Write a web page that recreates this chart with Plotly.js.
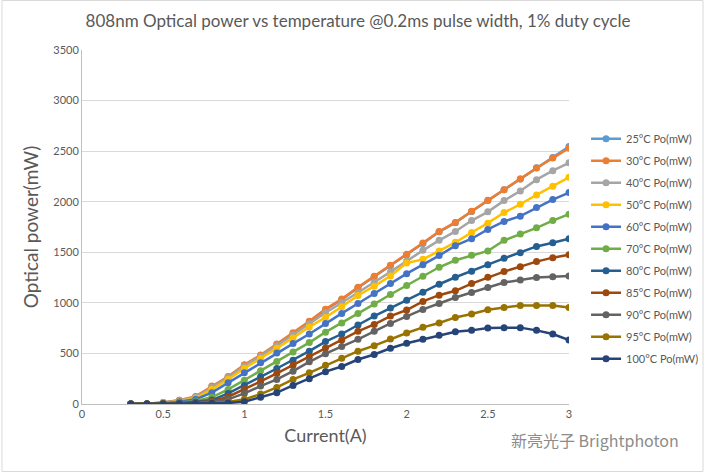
<!DOCTYPE html>
<html>
<head>
<meta charset="utf-8">
<script src="https://cdn.plot.ly/plotly-3.0.1.min.js"></script>
<style>
  html, body { margin: 0; padding: 0; background: #fff; }
  #chart { width: 716px; height: 473px; }
</style>
</head>
<body>
<div id="chart"></div>
<script>
// current in A
current = [0.3, 0.4, 0.5, 0.6, 0.7, 0.8, 0.9, 1.0, 1.1, 1.2, 1.3, 1.4, 1.5, 1.6,
           1.7, 1.8, 1.9, 2.0, 2.1, 2.2, 2.3, 2.4, 2.5, 2.6, 2.7, 2.8, 2.9, 3.0]

// optical power (mW)
po_25 = [0, 3, 14, 36, 72, 172, 267, 382, 478, 588, 698, 811, 932, 1032, 1150, 1258, 1366, 1476, 1588, 1702, 1793, 1904, 2012, 2118, 2224, 2336, 2438, 2546]
po_30 = [0, 3, 15, 38, 75, 177, 272, 388, 484, 594, 704, 817, 938, 1037, 1155, 1263, 1371, 1480, 1591, 1706, 1795, 1906, 2014, 2119, 2224, 2333, 2431, 2530]
po_40 = [0, 2, 12, 32, 66, 164, 262, 374, 472, 577, 682, 794, 902, 1001, 1099, 1204, 1306, 1414, 1519, 1618, 1706, 1814, 1900, 2011, 2106, 2218, 2307, 2385]
po_50 = [0, 2, 10, 28, 56, 144, 243, 351, 449, 551, 653, 761, 856, 961, 1073, 1165, 1266, 1394, 1430, 1513, 1598, 1696, 1788, 1893, 1975, 2067, 2152, 2241]
po_60 = [0, 1, 8, 22, 46, 112, 210, 308, 407, 505, 597, 692, 797, 896, 994, 1093, 1191, 1289, 1378, 1467, 1565, 1634, 1726, 1805, 1857, 1942, 2021, 2090]
po_70 = [0, 1, 5, 12, 30, 66, 144, 236, 328, 420, 515, 607, 710, 801, 896, 988, 1083, 1171, 1263, 1352, 1421, 1470, 1513, 1618, 1680, 1742, 1814, 1877]
po_80 = [0, 0, 3, 8, 20, 39, 105, 184, 269, 351, 433, 522, 617, 692, 781, 869, 948, 1027, 1106, 1184, 1253, 1312, 1378, 1440, 1496, 1558, 1595, 1634]
po_85 = [0, 0, 2, 6, 14, 26, 72, 144, 223, 302, 384, 466, 554, 633, 719, 787, 869, 929, 1014, 1076, 1119, 1191, 1253, 1309, 1358, 1408, 1447, 1476]
po_90 = [0, 0, 2, 5, 10, 20, 46, 105, 177, 243, 325, 417, 498, 568, 640, 719, 797, 866, 935, 994, 1053, 1102, 1152, 1201, 1227, 1250, 1257, 1266]
po_95 = [0, 0, 1, 3, 6, 13, 20, 46, 98, 164, 243, 308, 382, 453, 522, 577, 643, 702, 758, 801, 856, 889, 932, 955, 974, 974, 974, 955]
po_100 = [0, 0, 1, 2, 4, 7, 10, 23, 66, 112, 184, 249, 320, 371, 440, 489, 551, 600, 640, 679, 715, 728, 751, 755, 755, 728, 692, 633]

series_names = ['25°C Po(mW)', '30°C Po(mW)', '40°C Po(mW)', '50°C Po(mW)', '60°C Po(mW)', '70°C Po(mW)',
                '80°C Po(mW)', '85°C Po(mW)', '90°C Po(mW)', '95°C Po(mW)', '100°C Po(mW)']
series_values = [po_25, po_30, po_40, po_50, po_60, po_70, po_80, po_85, po_90, po_95, po_100]
series_colors = ['#5B9BD5', '#ED7D31', '#A5A5A5', '#FFC000', '#4472C4', '#70AD47',
                 '#255E91', '#9E480E', '#636363', '#997300', '#264478']

font = 'Lato, "Open Sans", sans-serif'
grey = '#595959'

data = []
for (i = 0; i < series_names.length; i++) {
    data.push({
        x: current,
        y: series_values[i],
        mode: 'lines+markers',
        type: 'scatter',
        name: series_names[i],
        legendgroup: 'g' + i,
        line: {color: series_colors[i], width: 2.5},
        marker: {color: series_colors[i], size: 7}
    })
}

// margins in px, used for the outer frame too
var m = {l: 82, r: 138, t: 50, b: 69}
var pw = 716 - m.l - m.r, ph = 473 - m.t - m.b

var layout = {
    width: 716,
    height: 473,
    margin: m,
    paper_bgcolor: '#fff',
    plot_bgcolor: '#fff',
    font: {family: font, color: grey, size: 11},
    title: {
        text: '808nm Optical power vs temperature @0.2ms pulse width, 1% duty cycle',
        font: {family: font, size: 17, color: grey},
        x: 0.5, xref: 'container', xanchor: 'center', y: 0.955, yanchor: 'middle'
    },
    xaxis: {
        range: [0, 3],
        dtick: 0.5,
        showgrid: false,
        zeroline: false,
        showline: true,
        linecolor: '#BFBFBF',
        ticks: '',
        tickfont: {size: 11, color: grey},
        title: {text: 'Current(A)', font: {size: 18, color: grey}, standoff: 10}
    },
    yaxis: {
        range: [0, 3500],
        dtick: 500,
        showgrid: true,
        gridcolor: '#D9D9D9',
        zeroline: false,
        showline: true,
        linecolor: '#BFBFBF',
        ticks: '',
        tickfont: {size: 11, color: grey},
        title: {text: 'Optical power(mW)', font: {size: 19, color: grey}, standoff: 9}
    },
    legend: {
        x: 1.035, xanchor: 'left',
        y: 0.79, yanchor: 'top',
        traceorder: 'grouped',
        tracegroupgap: 3,
        itemwidth: 30,
        font: {size: 11, color: grey},
        bgcolor: 'rgba(0,0,0,0)'
    },
    shapes: [{
        type: 'rect', xref: 'paper', yref: 'paper',
        x0: -(m.l - 0.5) / pw, x1: 1 + (m.r - 1.5) / pw,
        y0: -(m.b - 1.5) / ph, y1: 1 + (m.t - 0.5) / ph,
        line: {color: '#D9D9D9', width: 1}
    }],
    annotations: [{
        text: '新亮光子 Brightphoton',
        xref: 'paper', yref: 'paper',
        x: 1 + 114 / pw, xanchor: 'right',
        y: -36 / ph, yanchor: 'middle',
        showarrow: false,
        font: {family: '"Noto Sans CJK SC", "Noto Sans", sans-serif', size: 16, color: '#8C8C8C'}
    }]
}

Plotly.newPlot('chart', data, layout, {displayModeBar: false, staticPlot: true})
</script>
</body>
</html>
